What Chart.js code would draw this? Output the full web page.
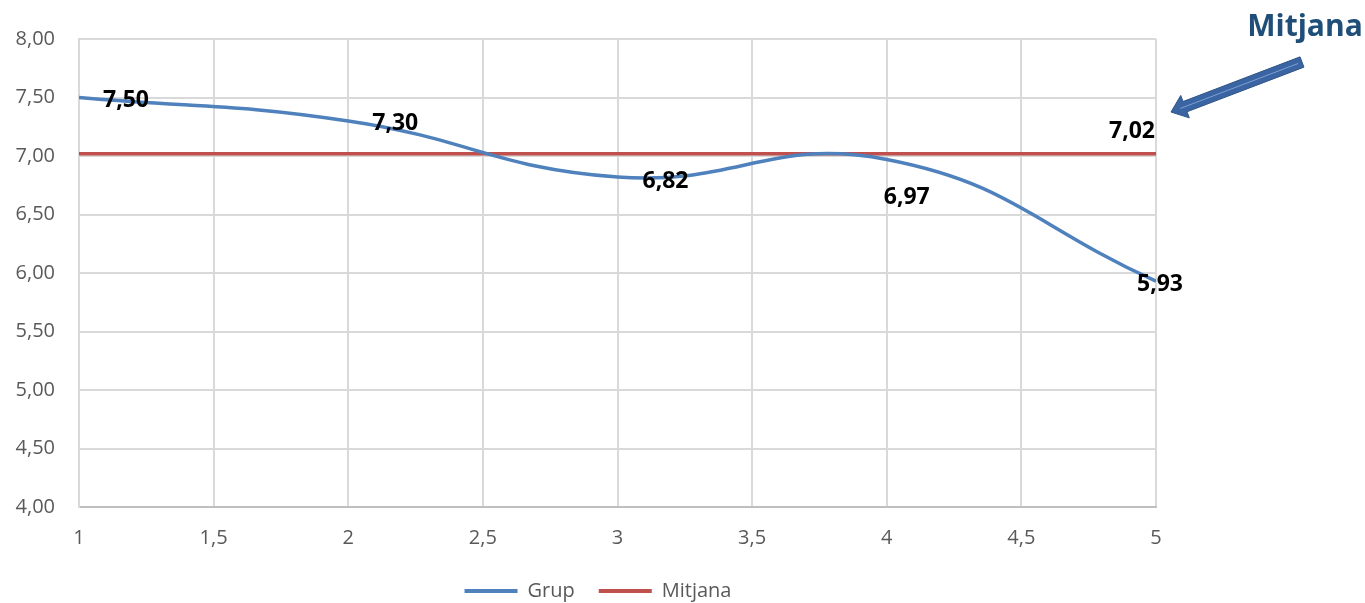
<!DOCTYPE html>
<html>
<head>
<meta charset="utf-8">
<script src="https://cdn.jsdelivr.net/npm/chart.js@4.4.1/dist/chart.umd.min.js"></script>
<style>
  html, body { margin: 0; padding: 0; background: #fff; overflow: hidden; }
</style>
</head>
<body>
<canvas id="chart" width="1365" height="603"></canvas>
<script>
// dades
const xValues = [1, 2, 3, 4, 5];
const grupValues = [7.50, 7.30, 6.82, 6.97, 5.93];
const mitjanaValues = [7.02, 7.02, 7.02, 7.02, 7.02];
const seriesNames = ['Grup', 'Mitjana'];
const yMin = 4, yMax = 8, yStep = 0.5;
const xMin = 1, xMax = 5, xStep = 0.5;
const calloutText = 'Mitjana';

const comma = v => String(v).replace('.', ',');

// on col·locar cada etiqueta respecte del seu punt
const labelPlacement = {
  0: [
    { dx: 24, dy: 3, align: 'left' },
    { dx: 24, dy: 3, align: 'left' },
    { dx: 25, dy: 4, align: 'left' },
    { dx: -3, dy: 38, align: 'left' },
    { dx: -19, dy: 3, align: 'left' }
  ],
  1: [null, null, null, null, { dx: -1, dy: -22, align: 'right' }]
};

const valueLabels = {
  id: 'valueLabels',
  afterDatasetsDraw(chart) {
    const ctx = chart.ctx;
    ctx.save();
    ctx.font = 'bold 23px "Open Sans"';
    ctx.fillStyle = '#000';
    ctx.textBaseline = 'middle';
    chart.data.datasets.forEach((ds, di) => {
      const meta = chart.getDatasetMeta(di);
      const place = labelPlacement[di] || [];
      meta.data.forEach((pt, i) => {
        const p = place[i];
        if (!p) return;
        ctx.textAlign = p.align;
        ctx.fillText(ds.data[i].y.toFixed(2).replace('.', ','), pt.x + p.dx, pt.y + p.dy);
      });
    });
    ctx.restore();
  }
};

// llegenda una mica més avall i a la dreta, com a l'original
const legendNudge = {
  id: 'legendNudge',
  afterLayout(chart) {
    const lg = chart.legend;
    if (!lg) return;
    lg.top += 8;
    lg.bottom += 8;
    lg.left += 20;
    lg.right += 20;
  }
};

// fletxa i text "Mitjana" a dalt a la dreta
const callout = {
  id: 'callout',
  afterDraw(chart) {
    const ctx = chart.ctx;
    ctx.save();
    ctx.font = 'bold 30px "Open Sans"';
    ctx.fillStyle = '#1F4E79';
    ctx.textAlign = 'center';
    ctx.textBaseline = 'alphabetic';
    ctx.fillText(calloutText, 1305, 36);

    const tail = { x: 1302, y: 62 }, tip = { x: 1171, y: 112 };
    const len = Math.hypot(tip.x - tail.x, tip.y - tail.y);
    const ux = (tip.x - tail.x) / len, uy = (tip.y - tail.y) / len;
    const nx = -uy, ny = ux;
    const sw = 5.5, hw = 12, hl = 15;
    const bx = tip.x - ux * hl, by = tip.y - uy * hl;
    ctx.beginPath();
    ctx.moveTo(tail.x + nx * sw, tail.y + ny * sw);
    ctx.lineTo(bx + nx * sw, by + ny * sw);
    ctx.lineTo(bx + nx * hw, by + ny * hw);
    ctx.lineTo(tip.x, tip.y);
    ctx.lineTo(bx - nx * hw, by - ny * hw);
    ctx.lineTo(bx - nx * sw, by - ny * sw);
    ctx.lineTo(tail.x - nx * sw, tail.y - ny * sw);
    ctx.closePath();
    ctx.fillStyle = '#3A65A2';
    ctx.fill();
    ctx.lineWidth = 1;
    ctx.strokeStyle = '#2F5587';
    ctx.stroke();
    ctx.beginPath();
    ctx.moveTo(tail.x + ux * 4, tail.y + uy * 4);
    ctx.lineTo(tip.x - ux * 10, tip.y - uy * 10);
    ctx.strokeStyle = 'rgba(140,175,225,0.8)';
    ctx.lineWidth = 1;
    ctx.stroke();
    ctx.restore();
  }
};

const ctx = document.getElementById('chart').getContext('2d');
new Chart(ctx, {
  type: 'line',
  data: {
    datasets: [
      {
        label: seriesNames[0],
        data: xValues.map((x, i) => ({ x: x, y: grupValues[i] })),
        borderColor: '#4F81BD',
        backgroundColor: '#4F81BD',
        borderWidth: 3.5,
        pointRadius: 0,
        tension: 0.45,
        fill: false
      },
      {
        label: seriesNames[1],
        data: xValues.map((x, i) => ({ x: x, y: mitjanaValues[i] })),
        borderColor: '#C0504D',
        backgroundColor: '#C0504D',
        borderWidth: 3.5,
        pointRadius: 0,
        tension: 0,
        fill: false
      }
    ]
  },
  options: {
    responsive: false,
    animation: false,
    layout: { padding: { left: 0, right: 209, top: 39, bottom: 0 } },
    scales: {
      x: {
        type: 'linear',
        min: xMin,
        max: xMax,
        afterFit: s => { s.height = 42; },
        ticks: {
          stepSize: xStep,
          color: '#595959',
          font: { family: '"Open Sans"', size: 20 },
          padding: 19,
          callback: v => comma(v)
        },
        grid: { color: '#d9d9d9', lineWidth: 2, drawTicks: false },
        border: { color: '#bfbfbf', width: 2 }
      },
      y: {
        min: yMin,
        max: yMax,
        afterFit: s => { s.width = 79; },
        ticks: {
          stepSize: yStep,
          color: '#595959',
          font: { family: '"Open Sans"', size: 20 },
          padding: 24,
          callback: v => v.toFixed(2).replace('.', ',')
        },
        grid: { color: '#d9d9d9', lineWidth: 2, drawTicks: false },
        border: { color: '#d9d9d9', width: 2 }
      }
    },
    plugins: {
      legend: {
        position: 'bottom',
        labels: {
          boxWidth: 53,
          boxHeight: 4,
          padding: 24,
          color: '#595959',
          font: { family: '"Open Sans"', size: 20 },
          generateLabels: chart => chart.data.datasets.map((ds, i) => ({
            text: ds.label,
            fillStyle: ds.borderColor,
            strokeStyle: ds.borderColor,
            lineWidth: 0,
            fontColor: '#595959',
            datasetIndex: i
          }))
        }
      },
      tooltip: { enabled: false }
    }
  },
  plugins: [valueLabels, legendNudge, callout]
});
</script>
</body>
</html>
